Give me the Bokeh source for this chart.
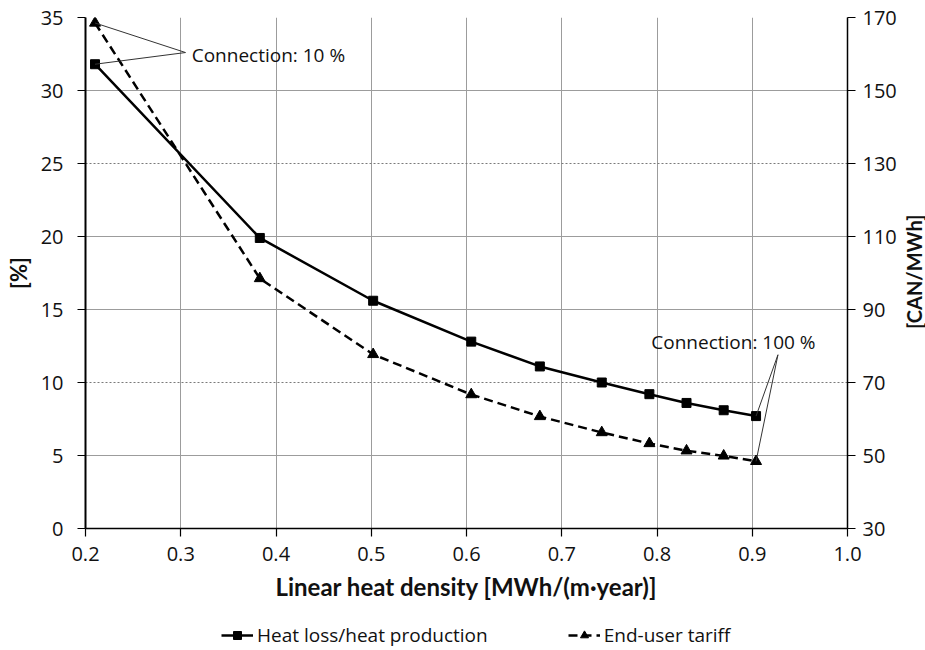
import math
from bokeh.plotting import figure
from bokeh.layouts import column, row
from bokeh.models import (Range1d, LinearAxis, FixedTicker, Grid, Legend,
                          LegendItem, Label, NumeralTickFormatter)
from bokeh.embed import file_html
from bokeh.resources import INLINE

# ---- data ----
density = [0.21, 0.383, 0.502, 0.605, 0.677, 0.742, 0.792, 0.831, 0.870, 0.904]
heat_loss = [31.8, 19.9, 15.6, 12.8, 11.1, 10.0, 9.2, 8.6, 8.1, 7.7]
tariff = [168.5, 98.5, 77.7, 66.7, 60.7, 56.3, 53.3, 51.3, 49.9, 48.4]

x_ticks = [0.2, 0.3, 0.4, 0.5, 0.6, 0.7, 0.8, 0.9, 1.0]
left_ticks = [0, 5, 10, 15, 20, 25, 30, 35]
right_ticks = [30, 50, 70, 90, 110, 130, 150, 170]

ann_low = "Connection: 10 %"
ann_high = "Connection: 100 %"
right_title = "[CAN/MWh]"
series_names = ["Heat loss/heat production", "End-user tariff"]

FONT = "Open Sans"
TITLE_FONT = "Lato"
INK = "#111111"
GRID = "#9c9c9c"

FRAME_W, FRAME_H = 762, 511
TOP, LEFT, RIGHT, BOTTOM = 17, 85, 50, 86

p = figure(frame_width=FRAME_W, frame_height=FRAME_H, output_backend="svg",
           toolbar_location=None,
           x_range=Range1d(0.2, 1.0), y_range=Range1d(0, 35),
           min_border_left=LEFT, min_border_right=RIGHT, min_border_top=TOP,
           min_border_bottom=BOTTOM, background_fill_color="white",
           border_fill_color="white")
p.extra_y_ranges = {"tariff": Range1d(30, 170)}
p.outline_line_color = None

# grids
p.xgrid.ticker = FixedTicker(ticks=x_ticks[1:-1])
p.xgrid.grid_line_color = GRID
p.xgrid.grid_line_width = 1
p.ygrid.ticker = FixedTicker(ticks=[5, 15, 20, 30, 35])
p.ygrid.grid_line_color = GRID
p.ygrid.grid_line_width = 1
dot_grid = Grid(dimension=1, ticker=FixedTicker(ticks=[10, 25]),
                grid_line_color="#7a7a7a", grid_line_width=1, grid_line_dash="2 2")
p.add_layout(dot_grid)

def style_axis(ax, lw=1.5):
    ax.axis_line_color = "black"
    ax.axis_line_width = lw
    ax.major_tick_line_color = "black"
    ax.major_tick_line_width = 1.2
    ax.major_tick_out = 8
    ax.major_tick_in = 0
    ax.minor_tick_line_color = None
    ax.major_label_text_font = FONT
    ax.major_label_text_font_size = "20px"
    ax.major_label_text_color = INK
    ax.axis_label_text_font = TITLE_FONT
    ax.axis_label_text_font_style = "bold"
    ax.axis_label_text_font_size = "24px"
    ax.axis_label_text_color = INK

# bottom axis
xa = p.xaxis[0]
xa.ticker = FixedTicker(ticks=x_ticks)
xa.formatter = NumeralTickFormatter(format="0.0")
xa.axis_label = "Linear heat density [MWh/(m\u00b7year)]"
style_axis(xa, 1.5)
xa.major_label_standoff = 10
xa.axis_label_standoff = 8

# left axis
ya = p.yaxis[0]
ya.ticker = FixedTicker(ticks=left_ticks)
ya.axis_label = "[%]"
style_axis(ya, 2)
ya.axis_label_text_font_size = "22px"
ya.major_label_standoff = 14
ya.axis_label_standoff = 6

# right axis (title drawn separately so that it reads bottom-to-top)
ra = LinearAxis(y_range_name="tariff", ticker=FixedTicker(ticks=right_ticks))
style_axis(ra, 1.5)
ra.major_label_standoff = 7
p.add_layout(ra, "right")

# series
l1 = p.line(density, heat_loss, line_color="black", line_width=2.5)
s1 = p.scatter(density, heat_loss, marker="square", size=9,
               fill_color="black", line_color="black")
l2 = p.line(density, tariff, y_range_name="tariff", line_color="black",
            line_width=2.5, line_dash="9 5")
s2 = p.scatter(density, tariff, y_range_name="tariff", marker="triangle",
               size=11, fill_color="black", line_color="black")

# annotations (leader lines)
def t2l(v):
    return (v - 30) / 4.0

a1x, a1y = 0.305, 32.6
p.segment(x0=[a1x, a1x], y0=[a1y, a1y],
          x1=[density[0], density[0]], y1=[heat_loss[0], t2l(tariff[0])],
          line_color="#333333", line_width=1)
p.add_layout(Label(x=0.3115, y=32.4, text=ann_low, text_font=FONT,
                   text_font_size="19px", text_color=INK,
                   text_baseline="middle", text_align="left"))

a2x, a2y = 0.927, 11.9
p.segment(x0=[a2x, a2x], y0=[a2y, a2y],
          x1=[density[-1], density[-1]], y1=[heat_loss[-1], t2l(tariff[-1])],
          line_color="#333333", line_width=1)
p.add_layout(Label(x=0.794, y=12.8, text=ann_high, text_font=FONT,
                   text_font_size="19px", text_color=INK,
                   text_baseline="middle", text_align="left"))

# right-hand title strip
P_H = TOP + FRAME_H + BOTTOM
RW = 925 - (LEFT + FRAME_W + RIGHT)
rf = figure(width=RW, height=P_H, output_backend="svg", toolbar_location=None,
            x_axis_type=None, y_axis_type=None, min_border=0,
            x_range=Range1d(0, RW), y_range=Range1d(0, P_H),
            background_fill_color="white", border_fill_color="white")
rf.outline_line_color = None
rf.add_layout(Label(x=RW / 2, y=P_H - (TOP + FRAME_H / 2) - 33, text=right_title,
                    angle=math.pi / 2, angle_units="rad",
                    text_align="center", text_baseline="middle",
                    text_font=TITLE_FONT, text_font_style="bold",
                    text_font_size="20px", text_color=INK))

# legend strip below (sample glyphs kept outside the strip's visible range)
LEG_H = 650 - P_H
lg = figure(width=925, height=LEG_H, output_backend="svg", toolbar_location=None,
            x_axis_type=None, y_axis_type=None, min_border=0,
            x_range=Range1d(0, 1), y_range=Range1d(0, 1),
            background_fill_color="white", border_fill_color="white")
lg.outline_line_color = None
hide_x, hide_y = [-5, -4], [-5, -5]
d1 = lg.line(x=hide_x, y=hide_y, line_color="black", line_width=2.5)
d2 = lg.scatter(x=hide_x, y=hide_y, marker="square", size=9, fill_color="black",
                line_color="black")
d3 = lg.line(x=hide_x, y=hide_y, line_color="black", line_width=2.5, line_dash="9 5")
d4 = lg.scatter(x=hide_x, y=hide_y, marker="triangle", size=11, fill_color="black",
                line_color="black")
legend = Legend(items=[LegendItem(label=series_names[0], renderers=[d1, d2]),
                       LegendItem(label=series_names[1], renderers=[d3, d4])],
                orientation="horizontal", location=(221, 2),
                label_text_font=FONT, label_text_font_size="19px",
                label_text_color=INK, glyph_width=32, glyph_height=20,
                label_standoff=4, spacing=80, border_line_color=None,
                background_fill_alpha=0, padding=0, margin=0)
lg.add_layout(legend)

layout = column(row(p, rf, spacing=0), lg, spacing=0)
open("out.html", "w").write(file_html(layout, INLINE))
